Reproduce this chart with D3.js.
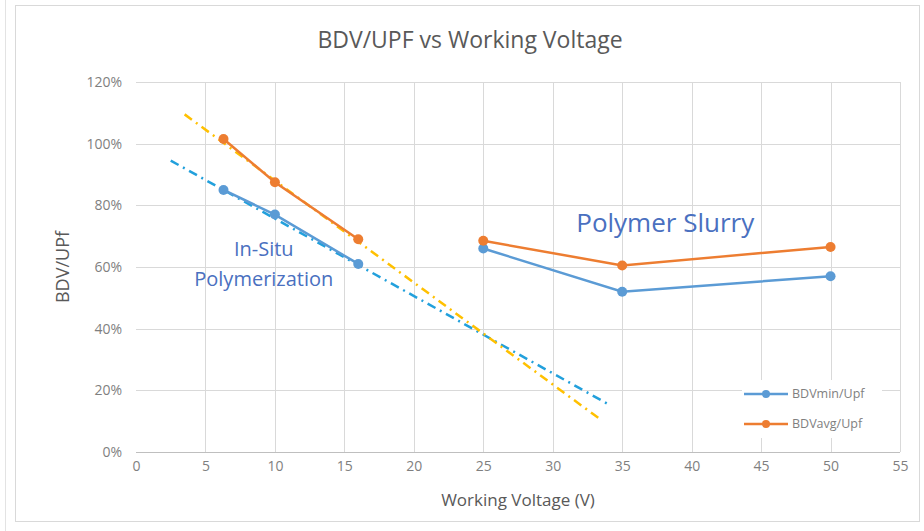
<!DOCTYPE html>
<html>
<head>
<meta charset="utf-8">
<style>
  body { margin: 0; background: #fff; }
  text { font-family: "Open Sans", "DejaVu Sans", sans-serif; }
</style>
</head>
<body>
<svg id="chart" width="924" height="531"></svg>
<script src="https://d3js.org/d3.v7.min.js"></script>
<script>

// values
var voltages = [6.3, 10, 16, 25, 35, 50];
var bdvMin = [85, 77, 61, 66, 52, 57];      // BDVmin/Upf, %
var bdvAvg = [101.5, 87.5, 69, 68.5, 60.5, 66.5]; // BDVavg/Upf, %
var inSituCount = 3;   // first 3 points are In-Situ, rest are Polymer Slurry

// trendlines (dash-dot) endpoints as seen in the picture
var trendMin = [[2.5, 94.5], [34, 15.5]];
var trendAvg = [[3.5, 109.5], [33.3, 11]];

var xTicks = [0, 5, 10, 15, 20, 25, 30, 35, 40, 45, 50, 55];
var yTicks = [0, 20, 40, 60, 80, 100, 120];

var seriesNames = ["BDVmin/Upf", "BDVavg/Upf"];
var seriesColors = ["#5b9bd5", "#ed7d31"];
var trendColors = ["#22a0dc", "#ffc000"];

var svg = d3.select("#chart");
var margin = {left: 136, right: 24, top: 82, bottom: 79};
var width = 924 - margin.left - margin.right,
    height = 531 - margin.top - margin.bottom;

// outer frame
svg.append("line").attr("x1", 5.5).attr("x2", 5.5).attr("y1", 0).attr("y2", 531)
   .attr("stroke", "#e3e3e3");
svg.append("rect").attr("x", 15.5).attr("y", 5.5).attr("width", 904).attr("height", 516)
   .attr("fill", "#fff").attr("stroke", "#d9d9d9");

var x = d3.scaleLinear().domain([0, 55]).range([0, width]);
var y = d3.scaleLinear().domain([0, 120]).range([height, 0]);

var g = svg.append("g").attr("transform", "translate(" + margin.left + "," + margin.top + ")");

// gridlines
g.append("g").selectAll("line").data(yTicks).enter().append("line")
  .attr("x1", 0).attr("x2", width)
  .attr("y1", function(d) { return Math.round(y(d)) + 0.5; })
  .attr("y2", function(d) { return Math.round(y(d)) + 0.5; })
  .attr("stroke", function(d) { return d == 0 ? "#bfbfbf" : "#d9d9d9"; });
g.append("g").selectAll("line").data(xTicks.slice(1)).enter().append("line")
  .attr("y1", 0).attr("y2", height)
  .attr("x1", function(d) { return Math.round(x(d)) + 0.5; })
  .attr("x2", function(d) { return Math.round(x(d)) + 0.5; })
  .attr("stroke", "#d9d9d9");

// axes (labels only)
var xAxis = g.append("g").attr("transform", "translate(0," + height + ")")
  .call(d3.axisBottom(x).tickValues(xTicks).tickSize(0).tickPadding(9));
var yAxis = g.append("g")
  .call(d3.axisLeft(y).tickValues(yTicks).tickSize(0).tickPadding(14)
        .tickFormat(function(d) { return d + "%"; }));
[xAxis, yAxis].forEach(function(a) {
  a.select(".domain").remove();
  a.selectAll("text").attr("fill", "#7f7f7f").style("font-size", "14px")
   .style("font-family", "'Open Sans', sans-serif");
});

// trendlines
var line = d3.line().x(function(d) { return x(d[0]); }).y(function(d) { return y(d[1]); });
[trendMin, trendAvg].forEach(function(t, i) {
  g.append("path").datum(t)
    .attr("d", line)
    .attr("fill", "none")
    .attr("stroke", trendColors[i])
    .attr("stroke-width", 2.5)
    .attr("stroke-dasharray", "9,5,2,5");
});

// data series: two segments each (In-Situ / Polymer Slurry)
[bdvMin, bdvAvg].forEach(function(vals, i) {
  var pts = voltages.map(function(v, j) { return [v, vals[j]]; });
  [pts.slice(0, inSituCount), pts.slice(inSituCount)].forEach(function(seg) {
    g.append("path").datum(seg)
      .attr("d", line)
      .attr("fill", "none")
      .attr("stroke", seriesColors[i])
      .attr("stroke-width", 2.5);
  });
  g.append("g").selectAll("circle").data(pts).enter().append("circle")
    .attr("cx", function(d) { return x(d[0]); })
    .attr("cy", function(d) { return y(d[1]); })
    .attr("r", 5)
    .attr("fill", seriesColors[i]);
});

// annotations
var annColor = "#4a70c0";
g.append("text").attr("x", x(9.2)).attr("y", y(63.5)).attr("text-anchor", "middle")
  .attr("fill", annColor).style("font-size", "20px").text("In-Situ");
g.append("text").attr("x", x(9.2)).attr("y", y(54)).attr("text-anchor", "middle")
  .attr("fill", annColor).style("font-size", "20px").text("Polymerization");
g.append("text").attr("x", x(38.1)).attr("y", y(71.5)).attr("text-anchor", "middle")
  .attr("fill", annColor).style("font-size", "26px").text("Polymer Slurry");

// legend
var legend = svg.append("g").attr("transform", "translate(742,380)");
legend.append("rect").attr("width", 140).attr("height", 58).attr("fill", "#fff");
seriesNames.forEach(function(name, i) {
  var row = legend.append("g").attr("transform", "translate(0," + (14 + i * 30) + ")");
  row.append("line").attr("x1", 2).attr("x2", 46).attr("stroke", seriesColors[i]).attr("stroke-width", 2.5);
  row.append("circle").attr("cx", 24).attr("r", 4).attr("fill", seriesColors[i]);
  row.append("text").attr("x", 50).attr("dy", "0.35em").attr("fill", "#7f7f7f")
    .style("font-size", "12.5px").text(name);
});

// titles
svg.append("text").attr("x", 470).attr("y", 48).attr("text-anchor", "middle")
  .attr("fill", "#595959").style("font-size", "23px").text("BDV/UPF vs Working Voltage");
svg.append("text").attr("x", 518).attr("y", 506).attr("text-anchor", "middle")
  .attr("fill", "#595959").style("font-size", "17px").text("Working Voltage (V)");
svg.append("text").attr("transform", "translate(69,267) rotate(-90)").attr("text-anchor", "middle")
  .attr("fill", "#595959").style("font-size", "18px").text("BDV/UPf");

</script>
</body>
</html>
